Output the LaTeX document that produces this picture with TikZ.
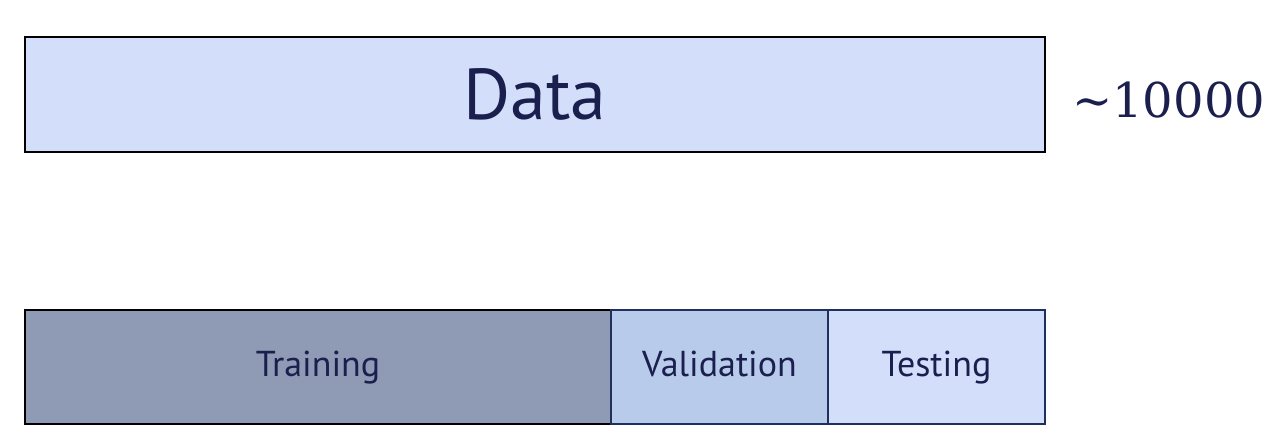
\documentclass[tikz,border=0pt]{standalone}
\usepackage{fontspec}
\setsansfont{PT Sans}
\newfontfamily\numfont{DejaVu Serif}
\definecolor{txt}{HTML}{1A1F4E}
\definecolor{lightfill}{HTML}{D3DEFA}
\definecolor{trainfill}{HTML}{8F9AB5}
\definecolor{valfill}{HTML}{B9CBEA}
\definecolor{navyedge}{HTML}{1F2F5E}
\tikzset{
  block/.style={draw=black, line width=2.5pt, inner sep=0pt, outer sep=0pt, text=txt, font=\sffamily},
  part/.style={draw=navyedge, line width=2.5pt, inner sep=0pt, outer sep=0pt, text=txt,
    text height=26pt, text depth=8pt, font=\sffamily\fontsize{36}{40}\selectfont}
}
\begin{document}
\begin{tikzpicture}[x=1pt,y=-1pt]
\useasboundingbox (0,0) rectangle (1277,441);
\node[block, fill=lightfill, minimum width=1020pt, minimum height=115pt, anchor=north west, font=\sffamily\fontsize{72}{80}\selectfont] (data) at (25,37) {Data};
\node[anchor=west, inner sep=0pt, text=txt, font=\numfont\fontsize{48}{56}\selectfont] (count) at (1072,100) {∼10000};
\node[part, draw=black, fill=trainfill, minimum width=586pt, minimum height=114pt, anchor=north west] (train) at (25,310) {Training};
\node[part, fill=valfill, minimum width=217pt, minimum height=114pt, anchor=north west] (val) at (611,310) {Validation};
\node[part, fill=lightfill, minimum width=217pt, minimum height=114pt, anchor=north west] (test) at (828,310) {Testing};
\end{tikzpicture}
\end{document}
